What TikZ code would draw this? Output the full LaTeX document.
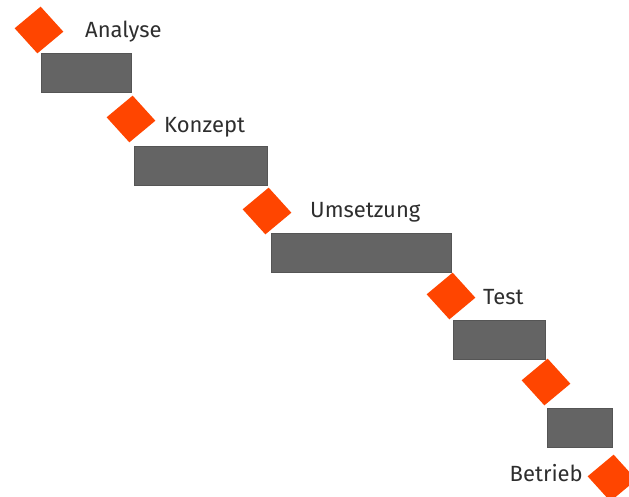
\documentclass[tikz,border=0pt]{standalone}
\usepackage{fontspec}
\setmainfont{Fira Sans}
\usepackage{xcolor}
\usetikzlibrary{positioning,shapes.geometric}
\definecolor{milered}{HTML}{FF4500}
\definecolor{phasegray}{HTML}{646464}
\definecolor{labelgray}{HTML}{2E2E2E}
\begin{document}
\begin{tikzpicture}[x=1pt, y=-1pt,
		mile/.style={shape=diamond, fill=milered, minimum width=49pt, minimum height=47pt, inner sep=0pt, rotate=-4},
		phase/.style={shape=rectangle, fill=phasegray, draw=phasegray!85!black, line width=0.6pt, minimum height=39pt, inner sep=0pt},
		lbl/.style={font=\fontsize{22}{26}\selectfont, text=labelgray, inner sep=0pt}]
		\clip (0,0) rectangle (629,497);
		\node[name=m1, mile] at (39,30) {};
		\node[name=m2, mile] at (131,119) {};
		\node[name=m3, mile] at (267,211) {};
		\node[name=m4, mile] at (451,296) {};
		\node[name=m5, mile] at (546,382) {};
		\node[name=m6, mile] at (612,478) {};
		\node[name=p1, phase, minimum width=90pt] at (86,72.5) {};
		\node[name=p2, phase, minimum width=133pt] at (200.5,165.5) {};
		\node[name=p3, phase, minimum width=180pt] at (361,253) {};
		\node[name=p4, phase, minimum width=92pt] at (499,339.5) {};
		\node[name=p5, phase, minimum width=65pt] at (579.5,427.5) {};
		\node[name=analyse, lbl, anchor=west] at (85,32) {Analyse};
		\node[name=konzept, lbl, anchor=west] at (164,127) {Konzept};
		\node[name=umsetzung, lbl, anchor=west] at (310,212) {Umsetzung};
		\node[name=test, lbl, anchor=west] at (483,297) {Test};
		\node[name=betrieb, lbl, anchor=east] at (583,473) {Betrieb};
	\end{tikzpicture}
\end{document}
